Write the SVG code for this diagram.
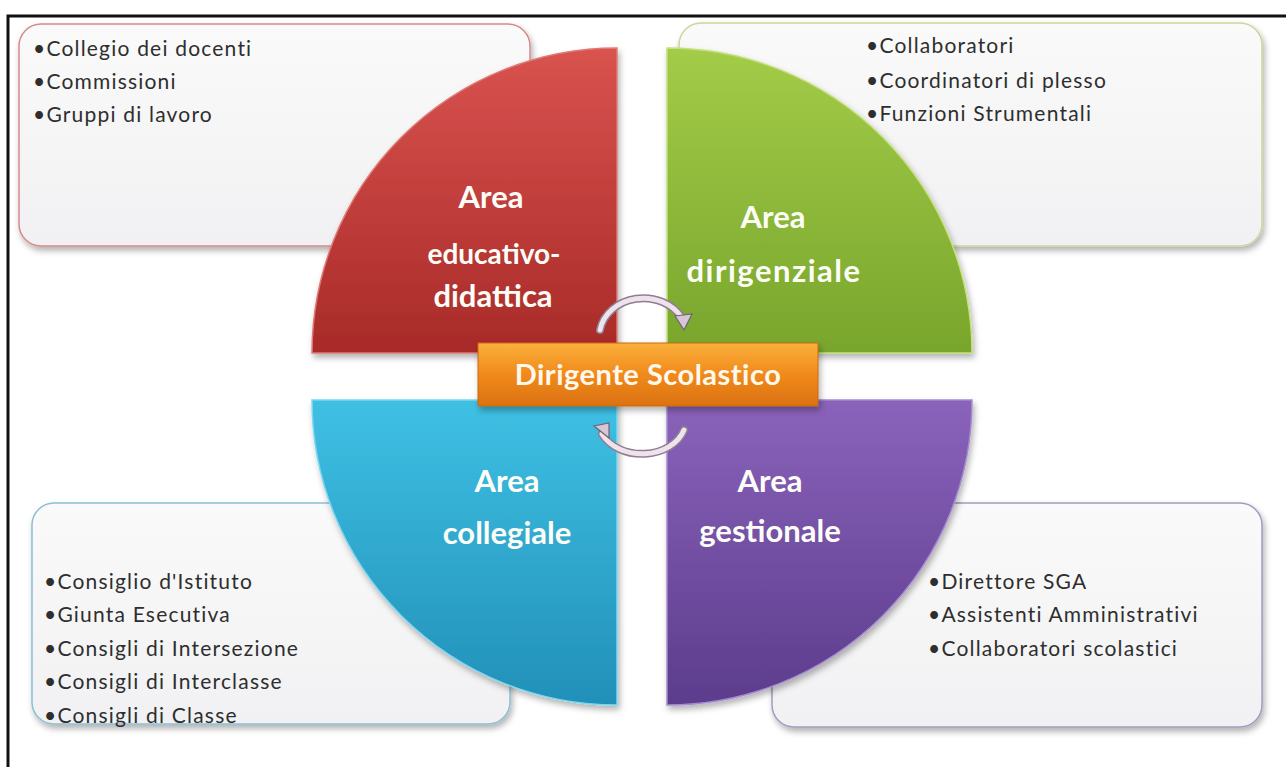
<svg xmlns="http://www.w3.org/2000/svg" width="1286" height="767" viewBox="0 0 1286 767">
<defs>
<style>
.box{stroke-width:1.5}
.lst{font-family:Lato,"Liberation Sans",sans-serif;font-size:21px;fill:#2e2e2e;letter-spacing:1.2px}
.ttl{font-family:Lato,"Liberation Sans",sans-serif;font-size:31px;font-weight:bold;fill:#fdfdf8;text-anchor:middle}
.arcO{fill:none;stroke:#8e7f90;stroke-width:8;stroke-linecap:round}
.arcI{fill:none;stroke:#eee2ec;stroke-width:5;stroke-linecap:round}
</style>
<filter id="sh" x="-10%" y="-10%" width="125%" height="130%">
<feDropShadow dx="2" dy="4" stdDeviation="3" flood-color="#000" flood-opacity="0.3"/>
</filter>
<linearGradient id="gBox" x1="0" y1="0" x2="0" y2="1"><stop offset="0" stop-color="#fafafa"/><stop offset="1" stop-color="#f1f1f3"/></linearGradient>
<linearGradient id="gR" x1="0" y1="0" x2="0" y2="1"><stop offset="0" stop-color="#d9534f"/><stop offset="1" stop-color="#a82a28"/></linearGradient>
<linearGradient id="gG" x1="0" y1="0" x2="0" y2="1"><stop offset="0" stop-color="#a3cc48"/><stop offset="1" stop-color="#78a52c"/></linearGradient>
<linearGradient id="gB" x1="0" y1="0" x2="0" y2="1"><stop offset="0" stop-color="#3fc0e4"/><stop offset="1" stop-color="#2290b8"/></linearGradient>
<linearGradient id="gP" x1="0" y1="0" x2="0" y2="1"><stop offset="0" stop-color="#8a63bb"/><stop offset="1" stop-color="#5c3c8c"/></linearGradient>
<linearGradient id="gO" x1="0" y1="0" x2="0" y2="1"><stop offset="0" stop-color="#fbb03b"/><stop offset="0.5" stop-color="#f08a1c"/><stop offset="1" stop-color="#dc7210"/></linearGradient>
</defs>
<rect width="1286" height="767" fill="#fff"/>
<path d="M8,767 V16 H1286" fill="none" stroke="#111" stroke-width="3"/>

<g id="box-educativo">
<rect class="box" x="19" y="24" width="511" height="222" rx="22" fill="url(#gBox)" stroke="#d88a8a" filter="url(#sh)"/>
<text class="lst" x="33" y="56">•Collegio dei docenti</text>
<text class="lst" x="33" y="89">•Commissioni</text>
<text class="lst" x="33" y="122">•Gruppi di lavoro</text>
</g>
<g id="box-dirigenziale">
<rect class="box" x="679" y="23" width="583" height="223" rx="22" fill="url(#gBox)" stroke="#c9d79b" filter="url(#sh)"/>
<text class="lst" x="866" y="53">•Collaboratori</text>
<text class="lst" x="866" y="88">•Coordinatori di plesso</text>
<text class="lst" x="866" y="121">•Funzioni Strumentali</text>
</g>
<g id="box-collegiale">
<rect class="box" x="32" y="503" width="478" height="221" rx="22" fill="url(#gBox)" stroke="#8cbfd2" filter="url(#sh)"/>
<text class="lst" x="44" y="589">•Consiglio d'Istituto</text>
<text class="lst" x="44" y="622">•Giunta Esecutiva</text>
<text class="lst" x="44" y="656">•Consigli di Intersezione</text>
<text class="lst" x="44" y="689">•Consigli di Interclasse</text>
<text class="lst" x="44" y="723">•Consigli di Classe</text>
</g>
<g id="box-gestionale">
<rect class="box" x="772" y="503" width="490" height="224" rx="22" fill="url(#gBox)" stroke="#a39ac0" filter="url(#sh)"/>
<text class="lst" x="928" y="589">•Direttore SGA</text>
<text class="lst" x="928" y="622">•Assistenti Amministrativi</text>
<text class="lst" x="928" y="656">•Collaboratori scolastici</text>
</g>

<g id="area-educativo">
<path d="M617,353 L312,353 A305,305 0 0 1 617,48 Z" fill="url(#gR)" stroke="#e07a76" stroke-width="1.5" filter="url(#sh)"/>
<text class="ttl" x="491" y="208">Area</text>
<text class="ttl" x="494" y="264" style="font-size:28px">educativo-</text>
<text class="ttl" x="493" y="307">didattica</text>
</g>
<g id="area-dirigenziale">
<path d="M667,353 L667,48 A305,305 0 0 1 972,353 Z" fill="url(#gG)" stroke="#c4e07a" stroke-width="1.5" filter="url(#sh)"/>
<text class="ttl" x="773" y="228">Area</text>
<text class="ttl" x="774" y="282" letter-spacing="1.5">dirigenziale</text>
</g>
<g id="area-collegiale">
<path d="M617,400 L617,705 A305,305 0 0 1 312,400 Z" fill="url(#gB)" stroke="#7dd6ef" stroke-width="1.5" filter="url(#sh)"/>
<text class="ttl" x="507" y="492">Area</text>
<text class="ttl" x="507" y="544">collegiale</text>
</g>
<g id="area-gestionale">
<path d="M667,400 L972,400 A305,305 0 0 1 667,705 Z" fill="url(#gP)" stroke="#a58ad0" stroke-width="1.5" filter="url(#sh)"/>
<text class="ttl" x="770" y="492">Area</text>
<text class="ttl" x="770" y="542">gestionale</text>
</g>

<g id="connectors">
<path class="arcO" d="M600,330 A44,38 0 0 1 682,318"/>
<path class="arcI" d="M600,330 A44,38 0 0 1 682,318"/>
<path d="M675,316 L692,314 L684,330 Z" fill="#d6c6d6" stroke="#6f6270" stroke-width="1.2"/>
<path class="arcO" d="M684,430 A44,34 0 0 1 602,434"/>
<path class="arcI" d="M684,430 A44,34 0 0 1 602,434"/>
<path d="M609,438 L594,426 L609,423 Z" fill="#d6c6d6" stroke="#6f6270" stroke-width="1.2"/>
</g>

<g id="dirigente">
<rect x="478" y="343" width="340" height="63" fill="url(#gO)" stroke="#c8680e" stroke-width="1" filter="url(#sh)"/>
<text x="648" y="385" text-anchor="middle" font-family="Lato,'Liberation Sans',sans-serif" font-size="29" font-weight="bold" letter-spacing="0.5" fill="#fff8ec">Dirigente Scolastico</text>
</g>
</svg>
